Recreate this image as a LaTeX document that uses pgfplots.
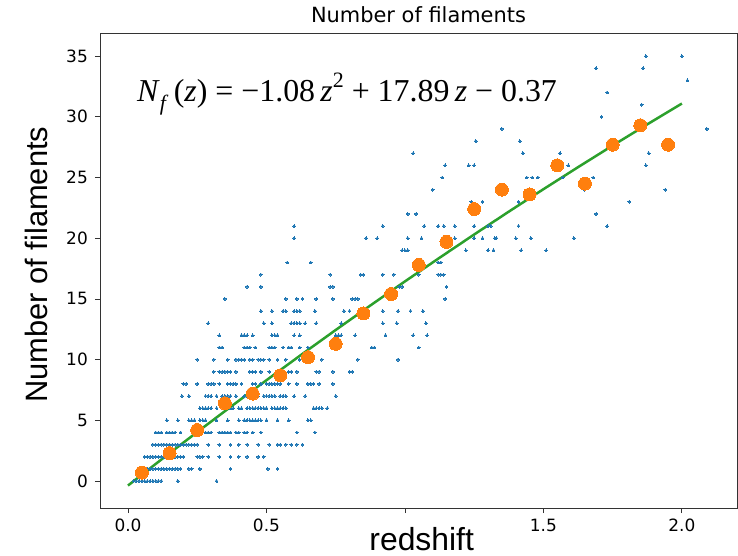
\documentclass[border=0pt]{standalone}
\usepackage{fontspec}
\setmainfont{DejaVu Sans}
\newfontfamily\labfont{Liberation Sans}
\newfontfamily\eqfont{Liberation Serif}
\usepackage{pgfplots}
\pgfplotsset{compat=1.18}
\definecolor{mblue}{HTML}{1F77B4}
\definecolor{morange}{HTML}{FF7F0E}
\definecolor{mgreen}{HTML}{2CA02C}
\begin{document}
\begin{tikzpicture}
\path[use as bounding box] (-100bp,-48bp) rectangle (638bp,508bp);
\begin{axis}[
  scale only axis, width=637bp, height=475bp,
  xmin=-0.101, xmax=2.199, ymin=-2.22, ymax=36.9,
  xtick={0,0.5,1,1.5,2}, xticklabels={0.0,0.5,,1.5,2.0},
  ytick={0,5,10,15,20,25,30,35},
  tick align=outside, major tick length=5bp,
  xtick pos=bottom, ytick pos=left,
  axis line style={line width=0.9bp, black!80},
  tick style={line width=0.8bp, black!80},
  /pgf/number format/assume math mode=true,
  ticklabel style={font=\fontsize{17}{17}\selectfont},
  yticklabel style={anchor=east, inner sep=0pt, xshift=-7bp},
  xticklabel style={anchor=north, inner sep=0pt, yshift=-6bp},
  title={Number of filaments},
  title style={font=\fontsize{21}{21}\selectfont, at={(axis description cs:0.5,1)}, anchor=base, inner sep=0pt, yshift=5bp},
  xlabel={redshift},
  xlabel style={font=\labfont\fontsize{32}{32}\selectfont, at={(axis description cs:0.505,-0.09)}, anchor=base},
  ylabel={Number of filaments},
  ylabel style={font=\labfont\fontsize{31}{31}\selectfont, at={(axis description cs:-0.083,0.512)}, anchor=base},
  clip=false,
]
\addplot[only marks, mark=*, mblue, mark size=1.4bp, mark options={solid, fill=mblue, draw=mblue, line width=0pt}] coordinates {
(0.02,0)(0.03,0)(0.04,0)(0.05,0)(0.06,0)(0.07,0)(0.08,0)(0.09,0)(0.10,0)(0.11,0)(0.12,0)(0.18,0)(0.32,0)
(0.04,1)(0.05,1)(0.06,1)(0.07,1)(0.08,1)(0.09,1)(0.10,1)(0.11,1)(0.12,1)(0.13,1)(0.14,1)(0.15,1)(0.16,1)(0.17,1)(0.18,1)(0.19,1)(0.22,1)(0.23,1)(0.26,1)(0.37,1)(0.505,1)(0.54,1)
(0.06,2)(0.07,2)(0.08,2)(0.09,2)(0.10,2)(0.11,2)(0.12,2)(0.13,2)(0.14,2)(0.15,2)(0.16,2)(0.17,2)(0.18,2)(0.19,2)(0.20,2)(0.25,2)(0.26,2)(0.27,2)(0.29,2)(0.33,2)(0.37,2)(0.40,2)(0.43,2)(0.47,2)(0.49,2)
(0.09,3)(0.10,3)(0.11,3)(0.12,3)(0.13,3)(0.14,3)(0.15,3)(0.16,3)(0.17,3)(0.18,3)(0.19,3)(0.20,3)(0.21,3)(0.22,3)(0.23,3)(0.24,3)(0.25,3)(0.29,3)(0.33,3)(0.37,3)(0.40,3)(0.43,3)(0.47,3)(0.51,3)(0.54,3)(0.55,3)(0.57,3)(0.59,3)(0.61,3)(0.63,3)
(0.10,4)(0.11,4)(0.12,4)(0.14,4)(0.15,4)(0.16,4)(0.17,4)(0.19,4)(0.25,4)(0.26,4)(0.28,4)(0.29,4)(0.30,4)(0.33,4)(0.34,4)(0.35,4)(0.36,4)(0.37,4)(0.39,4)(0.40,4)(0.42,4)(0.43,4)(0.45,4)(0.48,4)(0.61,4)(0.675,4)
(0.14,5)(0.18,5)(0.22,5)(0.23,5)(0.24,5)(0.26,5)(0.27,5)(0.28,5)(0.32,5)(0.36,5)(0.40,5)(0.42,5)(0.43,5)(0.44,5)(0.45,5)(0.46,5)(0.47,5)(0.48,5)(0.50,5)(0.54,5)(0.58,5)(0.65,5)(0.66,5)
(0.26,6)(0.27,6)(0.28,6)(0.29,6)(0.30,6)(0.32,6)(0.37,6)(0.38,6)(0.40,6)(0.41,6)(0.43,6)(0.44,6)(0.45,6)(0.46,6)(0.47,6)(0.48,6)(0.49,6)(0.50,6)(0.52,6)(0.53,6)(0.54,6)(0.55,6)(0.56,6)(0.57,6)(0.67,6)(0.68,6)(0.69,6)(0.70,6)(0.72,6)
(0.195,7)(0.22,7)(0.28,7)(0.29,7)(0.30,7)(0.32,7)(0.34,7)(0.35,7)(0.36,7)(0.37,7)(0.39,7)(0.42,7)(0.43,7)(0.44,7)(0.46,7)(0.47,7)(0.49,7)(0.50,7)(0.51,7)(0.52,7)(0.53,7)(0.55,7)(0.56,7)(0.57,7)(0.60,7)(0.64,7)(0.75,7)
(0.20,8)(0.21,8)(0.25,8)(0.29,8)(0.30,8)(0.31,8)(0.33,8)(0.36,8)(0.37,8)(0.38,8)(0.39,8)(0.41,8)(0.45,8)(0.46,8)(0.48,8)(0.50,8)(0.51,8)(0.52,8)(0.53,8)(0.54,8)(0.55,8)(0.58,8)(0.61,8)(0.65,8)(0.66,8)(0.67,8)(0.69,8)(0.74,8)
(0.31,9)(0.33,9)(0.34,9)(0.35,9)(0.36,9)(0.37,9)(0.39,9)(0.44,9)(0.45,9)(0.46,9)(0.48,9)(0.51,9)(0.58,9)(0.59,9)(0.61,9)(0.68,9)(0.69,9)(0.74,9)(0.80,9)(0.81,9)
(0.25,10)(0.31,10)(0.36,10)(0.39,10)(0.40,10)(0.41,10)(0.42,10)(0.44,10)(0.45,10)(0.47,10)(0.48,10)(0.49,10)(0.51,10)(0.54,10)(0.57,10)(0.62,10)(0.66,10)(0.70,10)(0.83,10)(0.975,10)
(0.33,11)(0.34,11)(0.42,11)(0.43,11)(0.44,11)(0.46,11)(0.51,11)(0.52,11)(0.53,11)(0.56,11)(0.58,11)(0.59,11)(0.62,11)(0.65,11)(0.75,11)(0.76,11)(0.88,11)(0.89,11)(1.05,11)
(0.33,12)(0.41,12)(0.42,12)(0.43,12)(0.45,12)(0.52,12)(0.53,12)(0.54,12)(0.60,12)(0.62,12)(0.75,12)(0.76,12)(0.77,12)(0.82,12)(0.93,12)(1.03,12)(1.08,12)
(0.29,13)(0.49,13)(0.52,13)(0.59,13)(0.60,13)(0.61,13)(0.62,13)(0.64,13)(0.68,13)(0.77,13)(0.92,13)(0.97,13)(1.076,13)
(0.48,14)(0.52,14)(0.56,14)(0.57,14)(0.60,14)(0.61,14)(0.62,14)(0.675,14)(0.78,14)(0.80,14)(0.92,14)(0.975,14)(1.02,14)(1.065,14)
(0.35,15)(0.57,15)(0.61,15)(0.63,15)(0.68,15)(0.74,15)(0.81,15)(0.82,15)(0.83,15)(1.145,15)
(0.43,16)(0.48,16)(0.73,16)(0.74,16)(0.98,16)(0.99,16)(1.15,16)
(0.48,17)(0.73,17)(0.84,17)(0.85,17)(0.92,17)(0.96,17)(1.05,17)(1.12,17)(1.13,17)(1.14,17)
(0.575,18)(0.66,18)(1.12,18)(1.13,18)
(0.99,19)(1.00,19)(1.01,19)(1.22,19)(1.30,19)(1.32,19)(1.42,19)(1.51,19)
(0.60,20)(0.86,20)(0.90,20)(1.01,20)(1.06,20)(1.18,20)(1.25,20)(1.28,20)(1.325,20)(1.33,20)(1.40,20)(1.455,20)(1.61,20)
(0.60,21)(0.92,21)(1.07,21)(1.12,21)(1.14,21)(1.18,21)(1.25,21)(1.30,21)(1.31,21)(1.41,21)(1.73,21)
(1.01,22)(1.04,22)(1.69,22)
(1.24,23)(1.28,23)(1.41,23)(1.81,23)
(1.10,24)(1.65,24)(1.94,24)
(1.135,25)(1.44,25)(1.46,25)(1.48,25)(1.57,25)(1.68,25)
(1.145,26)(1.23,26)(1.25,26)(1.59,26)(1.87,26)
(1.03,27)(1.426,27)(1.56,27)(1.88,27)
(1.256,28)(1.415,28)
(1.35,29)(2.09,29)
(1.71,30)(1.855,31)(1.73,32)(2.02,33)(1.69,34)(1.86,34)(1.87,35)(2.00,35)
};
\addplot[only marks, mark=*, morange, mark size=6.5bp, mark options={solid, fill=morange, draw=morange, line width=0pt}] coordinates {
(0.05,0.7)(0.15,2.3)(0.25,4.2)(0.35,6.4)(0.45,7.2)(0.55,8.7)(0.65,10.2)(0.75,11.3)(0.85,13.8)(0.95,15.4)
(1.05,17.8)(1.15,19.7)(1.25,22.4)(1.35,24.0)(1.45,23.6)(1.55,26.0)(1.65,24.5)(1.75,27.7)(1.85,29.3)(1.95,27.7)
};
\addplot[mgreen, line width=2.5bp, no marks] coordinates {
(0,-0.37)(0.125,1.85)(0.25,4.035)(0.375,6.187)(0.5,8.305)(0.625,10.39)(0.75,12.44)(0.875,14.457)(1.0,16.44)(1.125,18.389)(1.25,20.305)(1.375,22.187)(1.5,24.035)(1.625,25.85)(1.75,27.63)(1.875,29.377)(2.0,31.09)
};
\node[anchor=base west, inner sep=0pt] at (rel axis cs:0.058,0.856) {\eqfont\fontsize{32}{32}\selectfont \textit{N}\raisebox{-0.28em}{\fontsize{22}{22}\selectfont\textit{f}}\,(\textit{z}) = −1.08\,\textit{z}\raisebox{0.45em}{\fontsize{22}{22}\selectfont 2} + 17.89\,\textit{z} − 0.37};
\end{axis}
\end{tikzpicture}
\end{document}
